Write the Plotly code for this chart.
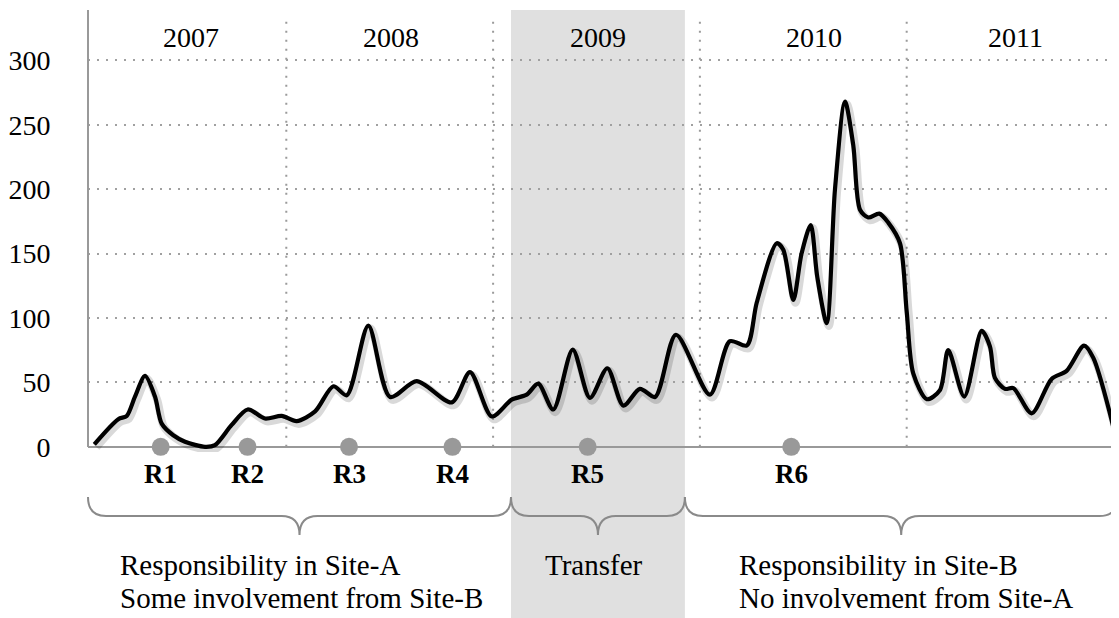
import plotly.graph_objects as go

# ---------------- data ----------------
# x: months since 1 Jan 2007 (fractional), y: count
months = [0.86, 2.25, 2.74, 3.22, 3.80, 4.38, 4.77, 5.44, 6.12, 7.28, 7.86, 8.83,
          9.76, 10.76, 11.73, 12.60, 13.67, 14.73, 15.51, 16.76, 18.02, 19.57, 21.60, 22.66,
          23.92, 25.08, 25.95, 26.62, 27.49, 28.62, 29.62, 30.63, 31.56, 32.52, 33.40, 34.61,
          36.58, 37.74, 38.72, 39.30, 40.46, 40.84, 41.42, 41.90, 42.43, 42.81, 43.36, 43.84,
          44.42, 44.90, 45.29, 45.77, 46.41, 46.93, 47.61, 48.00, 48.38, 49.17, 49.93, 50.41,
          51.34, 52.35, 52.83, 53.12, 53.70, 54.19, 55.25, 56.41, 57.28, 58.29, 58.83, 60.28]
counts = [2, 21.5, 24, 39, 55, 39, 18, 9, 4, 0, 1.3, 17,
          29, 22, 24, 20, 27.5, 47, 40, 94, 38.7, 51, 34.5, 58,
          23.6, 36.6, 40.5, 49, 29, 75.5, 38, 61, 32, 45, 38.7, 87,
          40.5, 82, 78.6, 112, 158, 153, 114, 150, 172, 132, 96, 200,
          268, 234, 184, 178, 181, 174, 158, 105, 57, 37, 44, 75,
          39, 90, 78, 53.5, 45, 45.6, 26, 52.7, 59, 78.6, 69, 0]

release_labels = ["R1", "R2", "R3", "R4", "R5", "R6"]
release_months = [4.71, 9.75, 15.64, 21.64, 29.49, 41.30]

year_labels = ["2007", "2008", "2009", "2010", "2011"]
year_label_months = [6.47, 18.07, 30.09, 42.62, 54.34]
year_boundaries = [12, 24, 36, 48]

transfer_span = [25.04, 35.13]
x_range = [0.493, 60.32]
y_ticks = [0, 50, 100, 150, 200, 250, 300]
y_range = [-4, 339]

phase_texts = [["Responsibility in Site-A", "Some involvement from Site-B"],
               ["Transfer"],
               ["Responsibility in Site-B", "No involvement from Site-A"]]

# ---------------- layout geometry (window pixels) ----------------
WIN_W, WIN_H = 1119, 618
BODY = 8                      # default page margin around the figure
W, H = WIN_W - BODY, WIN_H - BODY
PL, PT, PR, PB = 88, 10, 1119, 452   # plot area in window pixels
ML, MT, MR, MB = PL - BODY, PT - BODY, 0, WIN_H - PB
PW, PH = PR - PL, PB - PT
FONT = "Liberation Serif, Times New Roman, serif"


def mx_px(m):
    return PL + (m - x_range[0]) / (x_range[1] - x_range[0]) * PW


def px_to_paper_x(px):
    return (px - PL) / PW


def py_to_paper_y(py):
    return (PB - py) / PH


fig = go.Figure()

# soft shadow of the line
fig.add_trace(go.Scatter(
    x=[m + 0.12 for m in months], y=[c - 2.2 for c in counts],
    mode="lines", line=dict(color="rgba(0,0,0,0.15)", width=8, shape="spline", smoothing=0.8),
    hoverinfo="skip", showlegend=False))

fig.add_trace(go.Scatter(
    x=months, y=counts, mode="lines",
    line=dict(color="black", width=4.2, shape="spline", smoothing=0.8),
    showlegend=False))

fig.add_trace(go.Scatter(
    x=release_months, y=[0] * len(release_months), mode="markers",
    marker=dict(color="#999999", size=18, line=dict(width=0)),
    cliponaxis=False, showlegend=False))

shapes = []
# transfer band
shapes.append(dict(type="rect", xref="x", yref="paper",
                   x0=transfer_span[0], x1=transfer_span[1],
                   y0=py_to_paper_y(WIN_H + 2), y1=py_to_paper_y(10),
                   fillcolor="#e0e0e0", line=dict(width=0), layer="below"))
# year dividers
for b in year_boundaries:
    shapes.append(dict(type="line", xref="x", yref="y", x0=b, x1=b, y0=0, y1=335,
                       line=dict(color="#9a9a9a", width=2, dash="2px,7px"), layer="below"))
# y axis line
shapes.append(dict(type="line", xref="paper", yref="paper", x0=0, x1=0,
                   y0=py_to_paper_y(447), y1=py_to_paper_y(10),
                   line=dict(color="#999999", width=2)))

# braces
bounds = [x_range[0], transfer_span[0], transfer_span[1], x_range[1]]
y_top, y_bar, y_tip = py_to_paper_y(497), py_to_paper_y(516), py_to_paper_y(535)
rx = 18 / PW
for i in range(3):
    x0 = px_to_paper_x(mx_px(bounds[i]))
    x1 = px_to_paper_x(mx_px(bounds[i + 1]))
    if i == 2:
        x1 = px_to_paper_x(WIN_W - 1.5)
    xc = (x0 + x1) / 2
    path = (f"M {x0},{y_top} Q {x0},{y_bar} {x0 + rx},{y_bar} "
            f"L {xc - rx},{y_bar} Q {xc},{y_bar} {xc},{y_tip} "
            f"Q {xc},{y_bar} {xc + rx},{y_bar} "
            f"L {x1 - rx},{y_bar} Q {x1},{y_bar} {x1},{y_top}")
    shapes.append(dict(type="path", xref="paper", yref="paper", path=path,
                       line=dict(color="#8a8a8a", width=2)))

annotations = []
for lab, m in zip(year_labels, year_label_months):
    annotations.append(dict(x=m, y=py_to_paper_y(37), xref="x", yref="paper", text=lab,
                            showarrow=False, xanchor="center", yanchor="middle",
                            font=dict(family=FONT, size=28, color="black")))
for lab, m in zip(release_labels, release_months):
    annotations.append(dict(x=m, y=py_to_paper_y(474), xref="x", yref="paper",
                            text=f"<b>{lab}</b>", showarrow=False, xanchor="center",
                            yanchor="middle", font=dict(family=FONT, size=27, color="black")))

text_pos_px = [118, 594, 737]
text_anchor = ["left", "center", "left"]
for i, lines in enumerate(phase_texts):
    for j, line in enumerate(lines):
        annotations.append(dict(x=px_to_paper_x(text_pos_px[i]), y=py_to_paper_y(565 + 33 * j),
                                xref="paper", yref="paper", text=line, showarrow=False,
                                xanchor=text_anchor[i], yanchor="middle",
                                font=dict(family=FONT, size=29, color="black")))

fig.update_layout(
    width=W, height=H,
    margin=dict(l=ML, r=MR, t=MT, b=MB, pad=0),
    paper_bgcolor="white", plot_bgcolor="rgba(0,0,0,0)",
    shapes=shapes, annotations=annotations,
    xaxis=dict(range=x_range, showgrid=False, zeroline=False, showline=False,
               showticklabels=False, ticks=""),
    yaxis=dict(range=y_range, tickvals=y_ticks, showgrid=True,
               gridcolor="#a0a0a0", gridwidth=2, griddash="2px,7px",
               zeroline=True, zerolinecolor="#999999", zerolinewidth=2,
               showline=False, ticks="outside", ticklen=31, tickcolor="rgba(0,0,0,0)",
               tickfont=dict(family=FONT, size=28, color="black")),
    showlegend=False,
)

fig.write_html("out.html")
